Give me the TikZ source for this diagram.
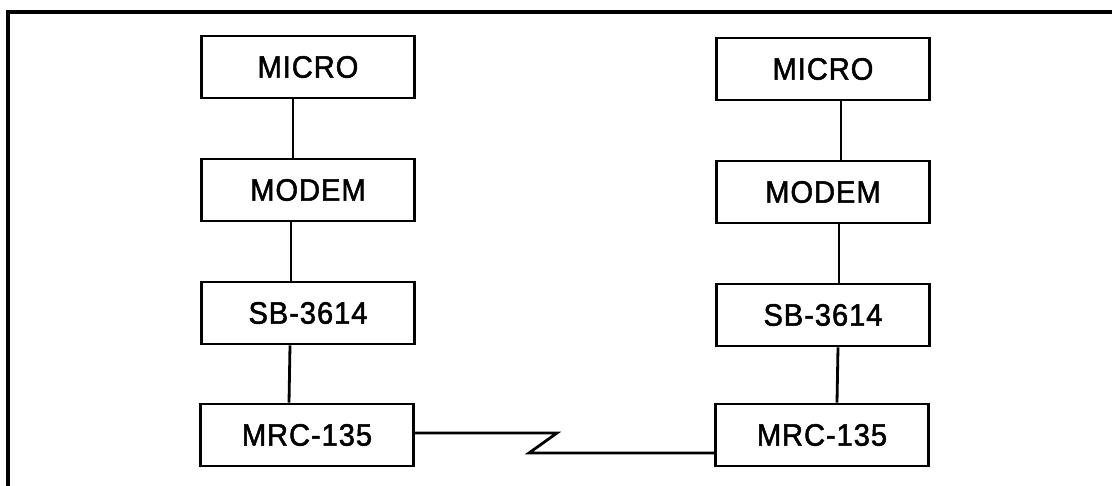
\documentclass[tikz,border=0pt]{standalone}
\usepackage{fontspec}
\setsansfont{Liberation Sans}[LetterSpace=3, FakeStretch=0.94, FakeBold=1.6]
\usetikzlibrary{positioning}

\begin{document}
\begin{tikzpicture}[
  x=1pt, y=-1pt,
  unit/.style={draw, line width=2.8pt, minimum width=213pt, minimum height=62pt,
    inner sep=0pt, font=\sffamily\fontsize{31}{34}\selectfont},
  link/.style={line width=2.8pt},
  frame/.style={line width=3.2pt}
]
  \useasboundingbox (0,0) rectangle (1112,486);
  % frame (only top and left are in the picture)
  \draw[frame] (1112,12) -- (8,12) -- (8,486);
  % left station
  \node[unit] (micro1) at (308,67) {MICRO};
  \node[unit] (modem1) at (308,190) {MODEM};
  \node[unit] (sb1) at (308,313) {SB-3614};
  \node[unit] (mrc1) at (307,435) {MRC-135};
  % right station
  \node[unit] (micro2) at (823,69) {MICRO};
  \node[unit] (modem2) at (823,192) {MODEM};
  \node[unit] (sb2) at (823,315) {SB-3614};
  \node[unit] (mrc2) at (822,435) {MRC-135};
  % cables
  \draw[link] ([xshift=-15pt]micro1.south) -- ([xshift=-15pt]modem1.north);
  \draw[link] ([xshift=-17pt]modem1.south) -- ([xshift=-17pt]sb1.north);
  \draw[link] ([xshift=-18pt]sb1.south) -- ([xshift=-18pt]mrc1.north);
  \draw[link] ([xshift=18pt]micro2.south) -- ([xshift=18pt]modem2.north);
  \draw[link] ([xshift=16pt]modem2.south) -- ([xshift=16pt]sb2.north);
  \draw[link] ([xshift=15pt]sb2.south) -- ([xshift=15pt]mrc2.north);
  % radio link
  \coordinate (zz1) at (557,433);
  \coordinate (zz2) at (529,453);
  \draw[link] ([yshift=2pt]mrc1.east) -- (zz1) -- (zz2)
    -- ([yshift=-18pt]mrc2.west);
\end{tikzpicture}
\end{document}
